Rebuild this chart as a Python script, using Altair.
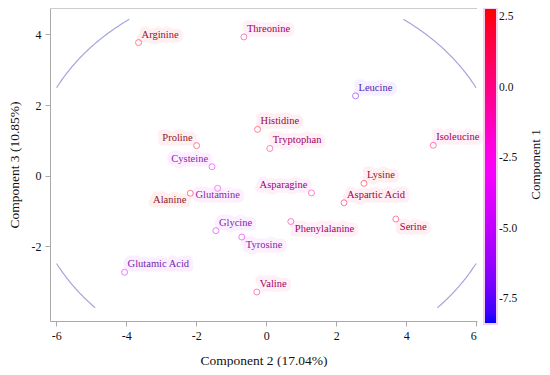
import altair as alt
import pandas as pd
import numpy as np

# ---- data ----
names = ["Arginine", "Threonine", "Leucine", "Histidine", "Tryptophan", "Proline",
         "Cysteine", "Glutamine", "Alanine", "Isoleucine", "Lysine", "Asparagine",
         "Aspartic Acid", "Phenylalanine", "Serine", "Glycine", "Tyrosine",
         "Glutamic Acid", "Valine"]
comp2 = [-3.65, -0.64, 2.55, -0.25, 0.10, -1.99, -1.55, -1.39, -2.17, 4.77, 2.79, 1.29,
         2.22, 0.70, 3.70, -1.44, -0.70, -4.05, -0.27]
comp3 = [3.77, 3.93, 2.26, 1.31, 0.77, 0.85, 0.25, -0.36, -0.50, 0.86, -0.22, -0.49,
         -0.77, -1.30, -1.23, -1.56, -1.74, -2.74, -3.30]
comp1 = [2.2, 0.3, -7.2, 2.0, 0.0, 2.6, -3.5, -3.0, 2.7, 0.2, 2.2, -1.0,
         1.0, -0.3, 1.5, -4.2, -3.8, -4.6, -0.2]
placement = ["ne", "ne", "ne", "ne", "ne", "nw", "nw", "s", "sw", "ne", "ne", "nw",
             "ne", "se", "se", "ne", "se", "ne", "ne"]

# ellipse (center, semi-axes) and clip box
ell_a, ell_b = 6.74, 5.44
clip_x = [-6.0, 6.0]
clip_y = [-3.76, 4.44]

x_dom = [-6.18, 6.02]
y_dom = [-4.12, 4.75]
x_ticks = [-6, -4, -2, 0, 2, 4, 6]
y_ticks = [-2, 0, 2, 4]
c_dom = [-8.38, -2.78, 2.82]
c_range = ["#0000ff", "#ff00ff", "#ff0000"]
t_range = ["#2828b0", "#9028a8", "#8c1c2c"]
legend_vals = [-7.5, -5.0, -2.5, 0.0, 2.5]
legend_title = ["Component 1"]

FONT = "Liberation Serif, Times New Roman, Times, DejaVu Serif, serif"

df = pd.DataFrame(dict(name=names, c2=comp2, c3=comp3, c1=comp1, pos=placement))

t = np.radians(np.arange(0, 360.25, 0.25))
ex = ell_a * np.cos(t)
ey = ell_b * np.sin(t)
quad = np.where(ex >= 0, np.where(ey >= 0, "tr", "br"), np.where(ey >= 0, "tl", "bl"))
ell = pd.DataFrame(dict(x=ex, y=ey, arc=quad, k=np.arange(len(t))))
ell = ell[(ell.x >= clip_x[0]) & (ell.x <= clip_x[1]) & (ell.y >= clip_y[0]) & (ell.y <= clip_y[1])]

W, H = 427, 313
minus_fix = "replace(datum.label, '\u2212', '-')"

xs = alt.Scale(domain=x_dom, nice=False, zero=False)
ys = alt.Scale(domain=y_dom, nice=False, zero=False)

X = alt.X("c2:Q", scale=xs, axis=alt.Axis(values=x_ticks, format="d", labelExpr=minus_fix,
                                          title="Component 2 (17.04%)"))
Y = alt.Y("c3:Q", scale=ys, axis=alt.Axis(values=y_ticks, format="d", labelExpr=minus_fix,
                                          title="Component 3 (10.85%)", titleX=-36,
                                          titleBaseline="middle"))

ellipse = alt.Chart(ell).mark_line(color="#a4a4e0", strokeWidth=1.2, clip=True).encode(
    x=alt.X("x:Q", scale=xs), y=alt.Y("y:Q", scale=ys), detail="arc:N", order="k:Q")

top_border = alt.Chart(df).mark_rule(color="#cccccc").encode(
    x=alt.value(0), x2=alt.value(W), y=alt.value(0))

title_txt = alt.Chart(pd.DataFrame({"t": legend_title})).mark_text(
    font=FONT, fontSize=13, angle=270, baseline="middle", align="center", color="#111111").encode(
    x=alt.value(W + 59), y=alt.value(H / 2), text="t:N")

legend_layer = alt.Chart(df).mark_point(filled=False, size=0, strokeWidth=0, opacity=1).encode(
    x=alt.X("c2:Q", scale=xs), y=alt.Y("c3:Q", scale=ys),
    color=alt.Color("c1:Q", scale=alt.Scale(domain=c_dom, range=c_range),
                    legend=alt.Legend(title=None, values=legend_vals, format=".1f",
                                      labelExpr=minus_fix)))

points = alt.Chart(df).mark_point(shape="circle", filled=False, size=36, strokeWidth=1, opacity=0.5).encode(
    x=X, y=Y,
    color=alt.Color("c1:Q", scale=alt.Scale(domain=c_dom, range=c_range), legend=None))

specs = {
    "ne": dict(align="left", dx=3, dy=-8),
    "se": dict(align="left", dx=4, dy=8),
    "nw": dict(align="right", dx=-4, dy=-8),
    "sw": dict(align="right", dx=-4, dy=7),
    "s": dict(align="center", dx=0, dy=7),
}

layers = [ellipse, top_border, title_txt, legend_layer]
for p, s in specs.items():
    base = alt.Chart(df).transform_filter(alt.datum.pos == p)
    halo = base.mark_text(font=FONT, fontSize=10.5, baseline="middle", strokeWidth=9,
                          strokeJoin="round", opacity=0.06, **s).encode(
        x=alt.X("c2:Q", scale=xs), y=alt.Y("c3:Q", scale=ys), text="name:N",
        color=alt.Color("c1:Q", scale=alt.Scale(domain=c_dom, range=c_range), legend=None),
        stroke=alt.Stroke("c1:Q", scale=alt.Scale(domain=c_dom, range=c_range), legend=None))
    txt = base.mark_text(font=FONT, fontSize=10.5, baseline="middle", **s).encode(
        x=alt.X("c2:Q", scale=xs), y=alt.Y("c3:Q", scale=ys), text="name:N",
        color=alt.Color("c1:Q", scale=alt.Scale(domain=c_dom, range=t_range), legend=None))
    layers += [halo, txt]
layers.append(points)

chart = alt.layer(*layers).resolve_scale(color="independent", stroke="independent").properties(
    width=W, height=H,
    autosize=alt.AutoSizeParams(type="none"),
    padding={"left": 42, "top": 0, "right": 65, "bottom": 46},
).configure_view(stroke=None).configure_axis(
    labelFont=FONT, titleFont=FONT, labelFontSize=12, titleFontSize=13.5,
    titleFontWeight="normal", labelColor="#111111", titleColor="#111111",
    domainColor="#aaaaaa", tickColor="#aaaaaa", tickSize=5, grid=False, labelPadding=4,
).configure_axisX(titlePadding=12).configure_legend(
    gradientLength=316, gradientThickness=13, offset=7, padding=0,
    labelFont=FONT, labelFontSize=11.5, labelOffset=11,
    gradientStrokeColor="#f7d0ef", gradientStrokeWidth=2, labelColor="#111111",
)

chart.save("out.html", embed_options={"renderer": "svg", "actions": False})
